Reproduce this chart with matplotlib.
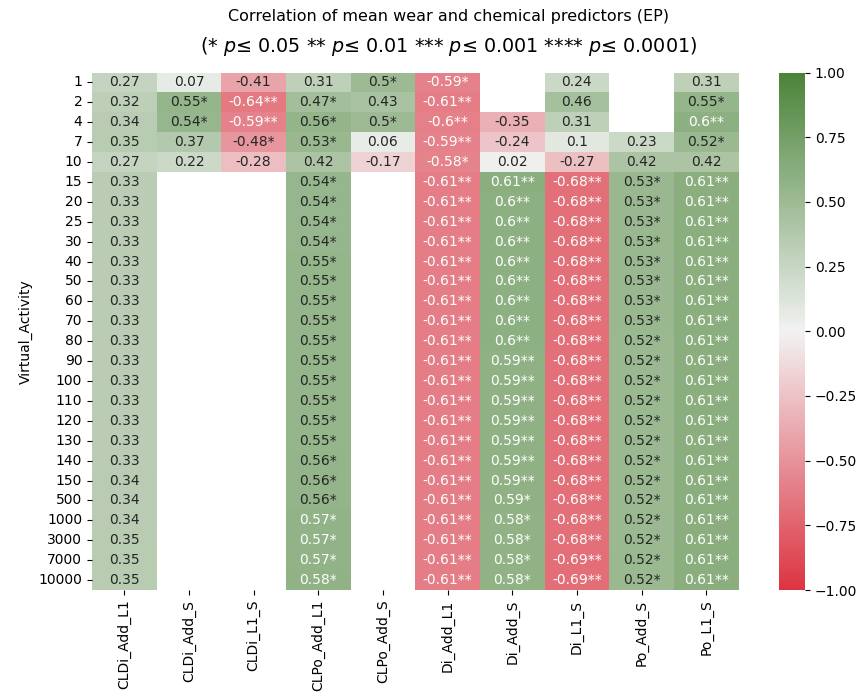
import numpy as np
import pandas as pd
import matplotlib
matplotlib.use("Agg")
import matplotlib.pyplot as plt
import seaborn as sns
from matplotlib.colors import LinearSegmentedColormap

nan = np.nan

# virtual activity levels (rows)
activity = [1, 2, 4, 7, 10, 15, 20, 25, 30, 40, 50, 60, 70, 80, 90,
            100, 110, 120, 130, 140, 150, 500, 1000, 3000, 7000, 10000]

predictors = ["CLDi_Add_L1", "CLDi_Add_S", "CLDi_L1_S", "CLPo_Add_L1", "CLPo_Add_S",
              "Di_Add_L1", "Di_Add_S", "Di_L1_S", "Po_Add_S", "Po_L1_S"]

# correlation coefficients per predictor
cldi_add_l1 = [0.27, 0.32, 0.34, 0.35, 0.27, 0.33, 0.33, 0.33, 0.33, 0.33, 0.33, 0.33, 0.33,
               0.33, 0.33, 0.33, 0.33, 0.33, 0.33, 0.33, 0.34, 0.34, 0.34, 0.35, 0.35, 0.35]
cldi_add_s = [0.07, 0.55, 0.54, 0.37, 0.22, nan, nan, nan, nan, nan, nan, nan, nan,
              nan, nan, nan, nan, nan, nan, nan, nan, nan, nan, nan, nan, nan]
cldi_l1_s = [-0.41, -0.64, -0.59, -0.48, -0.28, nan, nan, nan, nan, nan, nan, nan, nan,
             nan, nan, nan, nan, nan, nan, nan, nan, nan, nan, nan, nan, nan]
clpo_add_l1 = [0.31, 0.47, 0.56, 0.53, 0.42, 0.54, 0.54, 0.54, 0.54, 0.55, 0.55, 0.55, 0.55,
               0.55, 0.55, 0.55, 0.55, 0.55, 0.55, 0.56, 0.56, 0.56, 0.57, 0.57, 0.57, 0.58]
clpo_add_s = [0.5, 0.43, 0.5, 0.06, -0.17, nan, nan, nan, nan, nan, nan, nan, nan,
              nan, nan, nan, nan, nan, nan, nan, nan, nan, nan, nan, nan, nan]
di_add_l1 = [-0.59, -0.61, -0.6, -0.59, -0.58, -0.61, -0.61, -0.61, -0.61, -0.61, -0.61, -0.61, -0.61,
             -0.61, -0.61, -0.61, -0.61, -0.61, -0.61, -0.61, -0.61, -0.61, -0.61, -0.61, -0.61, -0.61]
di_add_s = [nan, nan, -0.35, -0.24, 0.02, 0.61, 0.6, 0.6, 0.6, 0.6, 0.6, 0.6, 0.6,
            0.6, 0.59, 0.59, 0.59, 0.59, 0.59, 0.59, 0.59, 0.59, 0.58, 0.58, 0.58, 0.58]
di_l1_s = [0.24, 0.46, 0.31, 0.1, -0.27, -0.68, -0.68, -0.68, -0.68, -0.68, -0.68, -0.68, -0.68,
           -0.68, -0.68, -0.68, -0.68, -0.68, -0.68, -0.68, -0.68, -0.68, -0.68, -0.68, -0.69, -0.69]
po_add_s = [nan, nan, nan, 0.23, 0.42, 0.53, 0.53, 0.53, 0.53, 0.53, 0.53, 0.53, 0.53,
            0.52, 0.52, 0.52, 0.52, 0.52, 0.52, 0.52, 0.52, 0.52, 0.52, 0.52, 0.52, 0.52]
po_l1_s = [0.31, 0.55, 0.6, 0.52, 0.42, 0.61, 0.61, 0.61, 0.61, 0.61, 0.61, 0.61, 0.61,
           0.61, 0.61, 0.61, 0.61, 0.61, 0.61, 0.61, 0.61, 0.61, 0.61, 0.61, 0.61, 0.61]

# significance stars per predictor
s1 = "*"
s2 = "**"
cldi_add_l1_sig = ["", "", "", "", "", "", "", "", "", "", "", "", "",
                   "", "", "", "", "", "", "", "", "", "", "", "", ""]
cldi_add_s_sig = ["", s1, s1, "", "", "", "", "", "", "", "", "", "",
                  "", "", "", "", "", "", "", "", "", "", "", "", ""]
cldi_l1_s_sig = ["", s2, s2, s1, "", "", "", "", "", "", "", "", "",
                 "", "", "", "", "", "", "", "", "", "", "", "", ""]
clpo_add_l1_sig = ["", s1, s1, s1, "", s1, s1, s1, s1, s1, s1, s1, s1,
                   s1, s1, s1, s1, s1, s1, s1, s1, s1, s1, s1, s1, s1]
clpo_add_s_sig = [s1, "", s1, "", "", "", "", "", "", "", "", "", "",
                  "", "", "", "", "", "", "", "", "", "", "", "", ""]
di_add_l1_sig = [s1, s2, s2, s2, s1, s2, s2, s2, s2, s2, s2, s2, s2,
                 s2, s2, s2, s2, s2, s2, s2, s2, s2, s2, s2, s2, s2]
di_add_s_sig = ["", "", "", "", "", s2, s2, s2, s2, s2, s2, s2, s2,
                s2, s2, s2, s2, s2, s2, s2, s2, s1, s1, s1, s1, s1]
di_l1_s_sig = ["", "", "", "", "", s2, s2, s2, s2, s2, s2, s2, s2,
               s2, s2, s2, s2, s2, s2, s2, s2, s2, s2, s2, s2, s2]
po_add_s_sig = ["", "", "", "", "", s1, s1, s1, s1, s1, s1, s1, s1,
                s1, s1, s1, s1, s1, s1, s1, s1, s1, s1, s1, s1, s1]
po_l1_s_sig = ["", s1, s2, s1, "", s2, s2, s2, s2, s2, s2, s2, s2,
               s2, s2, s2, s2, s2, s2, s2, s2, s2, s2, s2, s2, s2]

cols = [cldi_add_l1, cldi_add_s, cldi_l1_s, clpo_add_l1, clpo_add_s,
        di_add_l1, di_add_s, di_l1_s, po_add_s, po_l1_s]
sigs = [cldi_add_l1_sig, cldi_add_s_sig, cldi_l1_s_sig, clpo_add_l1_sig, clpo_add_s_sig,
        di_add_l1_sig, di_add_s_sig, di_l1_s_sig, po_add_s_sig, po_l1_s_sig]

corr = pd.DataFrame(dict(zip(predictors, cols)), index=activity)
corr.index.name = "Virtual_Activity"

labels = np.empty(corr.shape, dtype=object)
for j, (vals, stars) in enumerate(zip(cols, sigs)):
    for i, v in enumerate(vals):
        labels[i, j] = "" if np.isnan(v) else f"{v:g}{stars[i]}"

cmap = LinearSegmentedColormap.from_list("rwg", ["#dc3442", "#f2f2f2", "#4a8438"])

fig = plt.figure(figsize=(8.58, 6.93), dpi=100)
ax = fig.add_axes([92 / 858, 103 / 693, 646.5 / 858, 517.5 / 693])
cax = fig.add_axes([779 / 858, 103 / 693, 26 / 858, 517.5 / 693])

sns.heatmap(corr, ax=ax, cbar_ax=cax, cmap=cmap, vmin=-1, vmax=1,
            annot=labels, fmt="", annot_kws={"fontsize": 10})

ax.set_xlabel("")
ax.set_ylabel("Virtual_Activity", fontsize=10)
ax.tick_params(axis="both", labelsize=10)
plt.setp(ax.get_xticklabels(), rotation=90)
plt.setp(ax.get_yticklabels(), rotation=0)
cax.tick_params(labelsize=10)

fig.text(449 / 858, 1 - 17 / 693, "Correlation of mean wear and chemical predictors (EP)",
         ha="center", va="center", fontsize=11.5)
fig.text(449 / 858, 1 - 47 / 693,
         "(* $p$≤ 0.05 ** $p$≤ 0.01 *** $p$≤ 0.001 **** $p$≤ 0.0001)",
         ha="center", va="center", fontsize=13.8)

fig.savefig("out.png", dpi=100)
